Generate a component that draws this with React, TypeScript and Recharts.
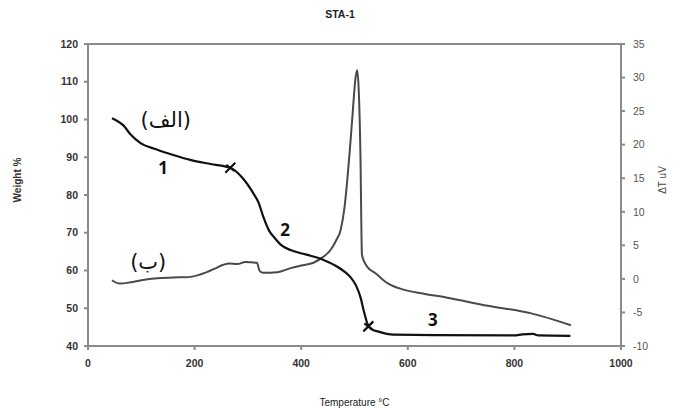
import React from 'react';
import { LineChart, Line, XAxis, YAxis, ReferenceLine, ReferenceDot, Label } from 'recharts';

// TG curve (weight %, left axis)
const tgTemp = [45, 55, 66, 80, 98, 130, 160, 192, 230, 267, 290, 310, 320, 329, 340, 348, 362, 380, 410, 442, 470, 492, 503, 511, 518, 524, 530, 545, 573, 650, 800, 815, 835, 845, 905];
const tgWeight = [100.3, 99.6, 98.5, 96, 93.8, 92, 90.6, 89.3, 88.2, 87.2, 84.5, 80.5, 78, 74.2, 70.5, 69, 66.8, 65.4, 64.2, 62.8, 60.8, 58.3, 56, 53, 49, 46, 44.6, 43.8, 43, 42.9, 42.8, 43.1, 43.2, 42.8, 42.7];

// DTA curve (ΔT uV, right axis)
const dtaTemp = [45, 60, 80, 100, 130, 160, 192, 223, 240, 254, 265, 280, 295, 317, 322, 329, 355, 380, 400, 423, 440, 455, 466, 474, 481, 486, 491, 496, 502, 505, 508, 511, 514, 518, 524, 540, 561, 592, 630, 674, 750, 830, 906];
const dtaValue = [-0.2, -0.7, -0.5, -0.2, 0.1, 0.2, 0.3, 1.0, 1.6, 2.1, 2.3, 2.2, 2.5, 2.4, 1.2, 0.9, 1.0, 1.6, 2.0, 2.4, 3.2, 4.3, 5.8, 7.3, 10.5, 14.3, 19, 24.1, 30, 31.1, 28, 19.2, 3.6, 2.6, 1.8, 0.8, -0.6, -1.6, -2.2, -2.8, -4.0, -5.1, -6.9];

const xTicks = [0, 200, 400, 600, 800, 1000];
const leftTicks = [40, 50, 60, 70, 80, 90, 100, 110, 120];
const rightTicks = [-10, -5, 0, 5, 10, 15, 20, 25, 30, 35];

// step boundaries marked with a cross on the TG curve
const crossTemp = [267, 526];
const crossWeight = [87.2, 45.2];

// step numbers
const stepNames = ['1', '2', '3'];
const stepTemp = [141, 370, 647];
const stepWeight = [87.2, 70.7, 46.9];

// curve names
const curveNames = ['(الف)', '(ب)'];
const curveTemp = [146, 113];
const curveWeight = [99.9, 62.3];

const tgData = tgTemp.map((t, i) => ({ t, w: tgWeight[i] }));
const dtaData = dtaTemp.map((t, i) => ({ t, d: dtaValue[i] }));

const axisColor = '#8a8a8a';
const font = 'Liberation Sans, Arial, sans-serif';
const tickStyle = { fontSize: 10.5, fontWeight: 'bold', fill: '#333', fontFamily: font };

const Cross = (props: any) => {
  const { cx, cy } = props;
  return (
    <g stroke="#111" strokeWidth={2.2}>
      <line x1={cx - 5} y1={cy + 5} x2={cx + 5} y2={cy - 5} />
      <line x1={cx - 4} y1={cy - 3} x2={cx + 4} y2={cy + 3} />
    </g>
  );
};

const App: React.FC = () => {
  return (
    <div style={{ position: 'absolute', left: 0, top: 0, width: 680, height: 408, background: '#fff' }}>
      <div style={{ position: 'absolute', top: 8, left: 0, width: 680, textAlign: 'center', fontSize: 10.5, fontWeight: 'bold', color: '#222', fontFamily: font }}>
        STA-1
      </div>
      <LineChart width={680} height={408} margin={{ top: 44, right: 0, bottom: 0, left: 0 }}>
        <XAxis
          type="number"
          dataKey="t"
          domain={[0, 1000]}
          ticks={xTicks}
          height={62}
          stroke={axisColor}
          strokeWidth={2}
          tickSize={4}
          tickMargin={10}
          tick={tickStyle}
          allowDataOverflow
        >
          <Label value="Temperature °C" position="insideBottom" offset={2} style={{ fontSize: 10, fill: '#222', fontFamily: font }} />
        </XAxis>
        <YAxis
          yAxisId="left"
          domain={[40, 120]}
          ticks={leftTicks}
          width={88}
          stroke={axisColor}
          strokeWidth={2}
          tickSize={4}
          tickMargin={6}
          tick={tickStyle}
          allowDataOverflow
        >
          <Label value="Weight %" angle={-90} position="insideLeft" offset={17} dy={-15} style={{ fontSize: 10, fontWeight: 'bold', fill: '#333', textAnchor: 'middle', fontFamily: font }} />
        </YAxis>
        <YAxis
          yAxisId="right"
          orientation="right"
          domain={[-10, 35]}
          ticks={rightTicks}
          width={59}
          stroke={axisColor}
          strokeWidth={2}
          tickSize={4}
          tickMargin={8}
          tick={{ ...tickStyle, fontWeight: 'normal', fill: '#555' }}
          allowDataOverflow
        >
          <Label value="ΔT uV" angle={-90} position="insideRight" offset={18} dy={-15} style={{ fontSize: 10, fill: '#444', textAnchor: 'middle', fontFamily: font }} />
        </YAxis>
        <ReferenceLine yAxisId="left" y={120} stroke={axisColor} strokeWidth={2} />
        <Line
          yAxisId="right"
          data={dtaData}
          dataKey="d"
          type="monotone"
          stroke="#4a4a4a"
          strokeWidth={2}
          dot={false}
          isAnimationActive={false}
        />
        <Line
          yAxisId="left"
          data={tgData}
          dataKey="w"
          type="monotone"
          stroke="#111"
          strokeWidth={2.2}
          dot={false}
          isAnimationActive={false}
        />
        {crossTemp.map((t, i) => (
          <ReferenceDot key={`c${i}`} yAxisId="left" x={t} y={crossWeight[i]} r={5} shape={Cross} />
        ))}
        {stepNames.map((s, i) => (
          <ReferenceDot
            key={`s${i}`}
            yAxisId="left"
            x={stepTemp[i]}
            y={stepWeight[i]}
            r={0}
            fill="none"
            stroke="none"
            label={{ value: s, position: 'center', style: { fontSize: 17, fontWeight: 'bold', fill: '#111', fontFamily: 'Open Sans, sans-serif' } }}
          />
        ))}
        {curveNames.map((s, i) => (
          <ReferenceDot
            key={`n${i}`}
            yAxisId="left"
            x={curveTemp[i]}
            y={curveWeight[i]}
            r={0}
            fill="none"
            stroke="none"
            label={{ value: s, position: 'center', style: { fontSize: 21, fill: '#111', fontFamily: 'DejaVu Sans, sans-serif' } }}
          />
        ))}
      </LineChart>
    </div>
  );
};

export default App;
